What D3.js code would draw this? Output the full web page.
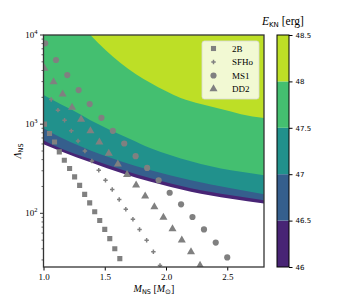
<!DOCTYPE html>
<html>
<head>
<meta charset="utf-8">
<script src="https://cdn.jsdelivr.net/npm/d3@7"></script>
<style>
  body { margin: 0; background: #fff; }
  svg { display: block; }
</style>
</head>
<body>
<svg width="354" height="300"></svg>
<script>
// EOS sequences: NS mass [Msun] and tidal deformability
const m2B   = [1.008,1.049,1.09,1.129,1.17,1.213,1.254,1.295,1.336,1.377,1.418,1.459,1.5,1.541,1.582,1.623]
const lam2B = [1000,787,632,489,394,318,256,206,163,131,104,83,66,52,40,31]
const mSFHo   = [1.063,1.118,1.172,1.227,1.282,1.338,1.395,1.451,1.506,1.561,1.618,1.672,1.73,1.784,1.842,1.897,1.951]
const lamSFHo = [1894,1436,1109,841,649,501,387,304,235,185,143,111,86,66,50,37,26]
const mMS1   = [1.014,1.102,1.194,1.287,1.377,1.473,1.566,1.659,1.752,1.846,1.94,2.03,2.123,2.216,2.31,2.406,2.5]
const lamMS1 = [8070,5240,3555,2412,1679,1178,841,607,437,323,235,170,126,91,66,47,32]
const mDD2   = [1.008,1.082,1.156,1.233,1.307,1.383,1.456,1.533,1.607,1.682,1.756,1.83,1.905,1.979,2.053,2.129,2.204,2.278]
const lamDD2 = [4225,2985,2172,1541,1130,841,628,469,356,271,207,156,118,90,67,50,37,26]

// E_KN contour levels (log10 erg) and their boundaries in (M, Lambda)
const levels = [46, 46.5, 47, 47.5, 48, 48.5]
const c46   = {m: [1.0,1.151,1.383,1.653,1.875,2.203,2.53,2.809], lam: [596,491,374,278,226,175,146,128]}
const c465  = {m: [1.0,1.137,1.383,1.653,1.875,2.203,2.53,2.809], lam: [661,537,407,304,247,191,159,140]}
const c47   = {m: [1.0,1.137,1.301,1.465,1.629,1.875,2.203,2.53,2.809], lam: [902,714,566,460,384,304,235,191,163]}
const c475  = {m: [1.0,1.137,1.235,1.383,1.547,1.711,1.875,2.039,2.203,2.366,2.53,2.694,2.809], lam: [2118,1679,1437,1109,857,678,537,449,384,337,304,281,267]}
const c48   = {m: [1.383,1.506,1.629,1.752,1.875,1.998,2.12,2.284,2.448,2.612,2.809], lam: [10000,6785,4845,3648,2890,2350,1960,1679,1475,1295,1167]}
const contours = [c46, c465, c47, c475, c48]

const xTicks = [1.0, 1.5, 2.0, 2.5]
const cbTicks = [46, 46.5, 47, 47.5, 48, 48.5]

const svg = d3.select("svg")
const pL = 43.5, pR = 264, pT = 35, pB = 267

const x = d3.scaleLinear().domain([1.0, 2.8]).range([pL, pR])
const y = d3.scaleLog().domain([25, 1e4]).range([pB, pT])
const col = d => d3.interpolateViridis((d - 46) / 2.5)

svg.append("clipPath").attr("id", "clip")
    .append("rect").attr("x", pL).attr("y", pT)
    .attr("width", pR - pL).attr("height", pB - pT)

const plot = svg.append("g").attr("clip-path", "url(#clip)")

// filled bands: each level painted from its contour up to the top
contours.forEach((c, i) => {
    const pts = c.m.map((m, j) => [m, c.lam[j]])
    const area = d3.area()
        .x(d => x(d[0]))
        .y0(pT - 2)
        .y1(d => y(d[1]))
        .curve(d3.curveMonotoneX)
    plot.append("path")
        .datum(pts)
        .attr("d", area)
        .attr("fill", col((levels[i] + levels[i + 1]) / 2))
})

// markers
const grey = "#808080"
const series = [
    {name: "2B",   m: m2B,   lam: lam2B,   sym: d3.symbolSquare,   size: 26},
    {name: "SFHo", m: mSFHo, lam: lamSFHo, sym: d3.symbolCross,    size: 11},
    {name: "MS1",  m: mMS1,  lam: lamMS1,  sym: d3.symbolCircle,   size: 30},
    {name: "DD2",  m: mDD2,  lam: lamDD2,  sym: d3.symbolTriangle, size: 28}
]
series.forEach(s => {
    plot.selectAll(null)
        .data(s.m.map((m, j) => [m, s.lam[j]]))
        .enter()
        .append("path")
        .attr("d", d3.symbol().type(s.sym).size(s.size))
        .attr("transform", d => `translate(${x(d[0])},${y(d[1])})`)
        .attr("fill", grey)
})

// axes
const serif = "Liberation Serif, Times New Roman, serif"
const xAxis = d3.axisBottom(x).tickValues(xTicks).tickFormat(d3.format(".1f")).tickSize(3.5).tickPadding(3)
svg.append("g").attr("transform", `translate(0,${pB})`).call(xAxis)
    .call(g => g.select(".domain").remove())
    .call(g => g.selectAll("text").attr("font-family", serif).attr("font-size", 9).attr("fill", "#000"))

const majors = [1e2, 1e3, 1e4]
const minors = []
for (let e = 1; e < 4; e++) for (let k = 2; k < 10; k++) {
    const v = k * Math.pow(10, e)
    if (v >= 25 && v <= 1e4) minors.push(v)
}
const yg = svg.append("g")
yg.selectAll(".minor").data(minors).enter().append("line")
    .attr("x1", pL - 2).attr("x2", pL)
    .attr("y1", d => y(d)).attr("y2", d => y(d))
    .attr("stroke", "#000").attr("stroke-width", 0.6)
yg.selectAll(".major").data(majors).enter().append("line")
    .attr("x1", pL - 3.5).attr("x2", pL)
    .attr("y1", d => y(d)).attr("y2", d => y(d))
    .attr("stroke", "#000").attr("stroke-width", 0.8)
const yl = yg.selectAll(".lab").data(majors).enter().append("text")
    .attr("x", pL - 6).attr("y", d => y(d) + 3)
    .attr("text-anchor", "end")
    .attr("font-family", serif).attr("font-size", 9)
yl.append("tspan").text("10")
yl.append("tspan").attr("dy", -4).attr("font-size", 6.5).text(d => Math.round(Math.log10(d)))

// frame
svg.append("rect").attr("x", pL).attr("y", pT)
    .attr("width", pR - pL).attr("height", pB - pT)
    .attr("fill", "none").attr("stroke", "#333").attr("stroke-width", 1.3)

// axis labels
const xl = svg.append("text").attr("x", 154).attr("y", 292)
    .attr("text-anchor", "middle").attr("font-family", serif).attr("font-size", 10)
xl.append("tspan").attr("font-style", "italic").text("M")
xl.append("tspan").attr("font-family", "DejaVu Sans").attr("font-size", 6.5).attr("dy", 2).text("NS")
xl.append("tspan").attr("dy", -2).text(" [")
xl.append("tspan").attr("font-style", "italic").text("M")
xl.append("tspan").attr("font-size", 7).attr("dy", 2).text("\u2299")
xl.append("tspan").attr("dy", -2).text("]")

const ylab = svg.append("text").attr("transform", "translate(21,151) rotate(-90)")
    .attr("text-anchor", "middle").attr("font-family", serif).attr("font-size", 10)
ylab.append("tspan").attr("font-style", "italic").text("\u039b")
ylab.append("tspan").attr("font-family", "DejaVu Sans").attr("font-size", 6.5).attr("dy", 2).text("NS")

// legend
const lg = svg.append("g")
lg.append("rect").attr("x", 202).attr("y", 41).attr("width", 57).attr("height", 58).attr("rx", 2.5)
    .attr("fill", "#fff").attr("fill-opacity", 0.8).attr("stroke", "#d8d8d8").attr("stroke-width", 0.8)
series.forEach((s, i) => {
    const yy = 48.5 + i * 13.5
    lg.append("path").attr("d", d3.symbol().type(s.sym).size(s.size))
        .attr("transform", `translate(213.5,${yy})`).attr("fill", grey)
    lg.append("text").attr("x", 232).attr("y", yy + 3.2)
        .attr("font-family", serif).attr("font-size", 9).text(s.name)
})

// colorbar
const cbX = 277, cbW = 12
const cy = d3.scaleLinear().domain([46, 48.5]).range([pB, pT])
const cb = svg.append("g")
cb.selectAll("rect").data(d3.pairs(levels)).enter().append("rect")
    .attr("x", cbX).attr("y", d => cy(d[1])).attr("width", cbW)
    .attr("height", d => cy(d[0]) - cy(d[1]))
    .attr("fill", d => col((d[0] + d[1]) / 2))
cb.append("rect").attr("x", cbX).attr("y", pT).attr("width", cbW).attr("height", pB - pT)
    .attr("fill", "none").attr("stroke", "#000").attr("stroke-width", 1)
svg.append("g").attr("transform", `translate(${cbX + cbW},0)`)
    .call(d3.axisRight(cy).tickValues(cbTicks).tickFormat(d3.format("")).tickSize(3.5).tickPadding(3))
    .call(g => g.select(".domain").remove())
    .call(g => g.selectAll("text").attr("font-family", "DejaVu Sans").attr("font-size", 7).attr("fill", "#000"))

const ct = svg.append("text").attr("x", 262).attr("y", 25)
    .attr("font-family", serif).attr("font-size", 11.5)
ct.append("tspan").attr("font-style", "italic").text("E")
ct.append("tspan").attr("font-family", "DejaVu Sans").attr("font-size", 7).attr("dy", 2).text("KN")
ct.append("tspan").attr("dy", -2).text(" [erg]")
</script>
</body>
</html>
